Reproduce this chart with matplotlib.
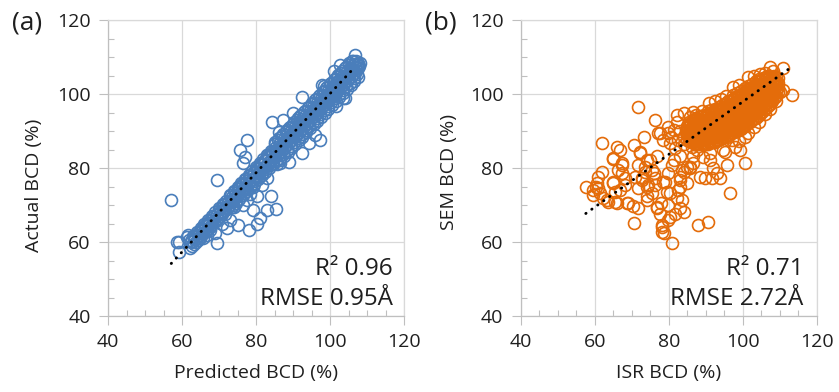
import matplotlib
matplotlib.use("Agg")
import matplotlib.pyplot as plt
from matplotlib.ticker import MultipleLocator

plt.rcParams['font.family'] = ['Open Sans', 'DejaVu Sans']

# ---------------- data: panel (a) Predicted vs Actual ----------------
a_low_x = [62, 62.5, 62.2, 63, 63.5, 63.2, 64, 64.5, 64.2, 65, 65.5, 65.2, 66, 66.5, 66.2,
           67, 67.5, 67.2, 68, 68.5, 68.2, 69, 69.5, 69.2, 70, 70.5, 70.2, 71, 71.5, 71.2,
           72, 72.5, 72.2,
           62.35, 62.75, 63.35, 63.75, 64.35, 64.75, 65.35, 65.75, 66.35, 66.75, 67.35, 67.75,
           68.35, 68.75, 69.35, 69.75, 70.35, 70.75, 71.35, 71.75, 72.35, 72.75]
a_low_y = [60.5, 59.9, 58.4, 61.6, 60.9, 59.4, 62.7, 62.0, 60.5, 63.8, 63.1, 61.6, 64.8, 64.2, 62.6,
           65.9, 65.2, 63.7, 67.0, 66.3, 64.8, 68.0, 67.4, 65.8, 69.1, 68.4, 66.9, 70.2, 69.5, 68.0,
           71.2, 70.6, 69.1,
           60.2, 59.0, 61.3, 60.1, 62.4, 61.2, 63.5, 62.3, 64.5, 63.3, 65.6, 64.4,
           66.7, 65.5, 67.7, 66.5, 68.8, 67.6, 69.9, 68.7, 70.9, 69.7]
a_mid_x = [73, 73.5, 73.2, 73.7, 74, 74.5, 74.2, 74.7, 75, 75.5, 75.2, 75.7, 76, 76.5, 76.2, 76.7,
           77, 77.5, 77.2, 77.7, 78, 78.5, 78.2, 78.7, 79, 79.5, 79.2, 79.7, 80, 80.5, 80.2, 80.7,
           81, 81.5, 81.2, 81.7, 82, 82.5, 82.2, 82.7, 83, 83.5, 83.2, 83.7, 84, 84.5, 84.2, 84.7,
           73.35, 73.85, 73.5, 74.35, 74.85, 74.5, 75.35, 75.85, 75.5, 76.35, 76.85, 76.5,
           77.35, 77.85, 77.5, 78.35, 78.85, 78.5, 79.35, 79.85, 79.5, 80.35, 80.85, 80.5,
           81.35, 81.85, 81.5, 82.35, 82.85, 82.5, 83.35, 83.85, 83.5, 84.35, 84.85, 84.5]
a_mid_y = [72.8, 72.2, 70.7, 70.1, 73.9, 73.3, 71.8, 71.2, 75.0, 74.4, 72.9, 72.3, 76.0, 75.4, 73.9, 73.3,
           77.1, 76.5, 75.0, 74.4, 78.2, 77.6, 76.1, 75.5, 79.2, 78.6, 77.1, 76.5, 80.3, 79.7, 78.2, 77.6,
           81.4, 80.8, 79.3, 78.7, 82.4, 81.8, 80.3, 79.7, 83.5, 82.9, 81.4, 80.8, 84.6, 84.0, 82.5, 81.9,
           72.6, 71.3, 69.4, 73.7, 72.4, 70.5, 74.8, 73.5, 71.6, 75.8, 74.5, 72.6,
           76.9, 75.6, 73.7, 78.0, 76.7, 74.8, 79.0, 77.7, 75.8, 80.1, 78.8, 76.9,
           81.2, 79.9, 78.0, 82.2, 80.9, 79.0, 83.3, 82.0, 80.1, 84.4, 83.1, 81.2]
a_top_x = [85, 85.5, 85.2, 85.7, 85.4, 86, 86.5, 86.2, 86.7, 86.4, 87, 87.5, 87.2, 87.7, 87.4,
           88, 88.5, 88.2, 88.7, 88.4, 89, 89.5, 89.2, 89.7, 89.4, 90, 90.5, 90.2, 90.7, 90.4,
           91, 91.5, 91.2, 91.7, 91.4, 92, 92.5, 92.2, 92.7, 92.4, 93, 93.5, 93.2, 93.7, 93.4,
           94, 94.5, 94.2, 94.7, 94.4, 95, 95.5, 95.2, 95.7, 95.4, 96, 96.5, 96.2, 96.7, 96.4,
           97, 97.5, 97.2, 97.7, 97.4, 98, 98.5, 98.2, 98.7, 98.4, 99, 99.5, 99.2, 99.7, 99.4,
           100, 100.5, 100.2, 100.7, 100.4, 101, 101.5, 101.2, 101.7, 101.4,
           102, 102.5, 102.2, 102.7, 102.4, 103, 103.5, 103.2, 103.7, 103.4,
           104, 104.5, 104.2, 104.7, 104.4, 105, 105.5, 105.2, 105.7, 105.4,
           106, 106.5, 106.2, 106.7, 106.4, 107, 107.5, 107.2, 107.7, 107.4]
a_top_y = [86.6, 85.8, 84.2, 83.4, 81.8, 87.6, 86.8, 85.2, 84.4, 82.8, 88.7, 87.9, 86.3, 85.5, 83.9,
           89.8, 89.0, 87.4, 86.6, 85.0, 90.8, 90.0, 88.4, 87.6, 86.0, 91.9, 91.1, 89.5, 88.7, 87.1,
           93.0, 92.2, 90.6, 89.8, 88.2, 94.0, 93.2, 91.6, 90.8, 89.2, 95.1, 94.3, 92.7, 91.9, 90.3,
           96.2, 95.4, 93.8, 93.0, 91.4, 97.3, 96.5, 94.9, 94.1, 92.5, 98.3, 97.5, 95.9, 95.1, 93.5,
           99.4, 98.6, 97.0, 96.2, 94.6, 100.5, 99.7, 98.1, 97.3, 95.7, 101.5, 100.7, 99.1, 98.3, 96.7,
           102.6, 101.8, 100.2, 99.4, 97.8, 103.7, 102.9, 101.3, 100.5, 98.9,
           104.7, 103.9, 102.3, 101.5, 99.9, 105.8, 105.0, 103.4, 102.6, 101.0,
           106.9, 106.1, 104.5, 103.7, 102.1, 107.9, 107.1, 105.5, 104.7, 103.1,
           109.0, 108.2, 106.6, 105.8, 104.2, 108.8, 108.5, 107.2, 106.9, 105.3]
a_fill_x = [85.25, 85.75, 85.1, 85.55, 86.25, 86.75, 86.1, 86.55, 87.25, 87.75, 87.1, 87.55,
            88.25, 88.75, 88.1, 88.55, 89.25, 89.75, 89.1, 89.55, 90.25, 90.75, 90.1, 90.55,
            91.25, 91.75, 91.1, 91.55, 92.25, 92.75, 92.1, 92.55, 93.25, 93.75, 93.1, 93.55,
            94.25, 94.75, 94.1, 94.55, 95.25, 95.75, 95.1, 95.55, 96.25, 96.75, 96.1, 96.55,
            97.25, 97.75, 97.1, 97.55, 98.25, 98.75, 98.1, 98.55, 99.25, 99.75, 99.1, 99.55,
            100.25, 100.75, 100.1, 100.55, 101.25, 101.75, 101.1, 101.55,
            102.25, 102.75, 102.1, 102.55, 103.25, 103.75, 103.1, 103.55,
            104.25, 104.75, 104.1, 104.55, 105.25, 105.75, 105.1, 105.55,
            106.25, 106.75, 106.1, 106.55, 107.4, 107.75, 107.1, 107.55]
a_fill_y = [87.0, 85.0, 83.0, 81.1, 88.0, 86.0, 84.0, 82.1, 89.1, 87.1, 85.1, 83.2,
            90.2, 88.2, 86.2, 84.3, 91.2, 89.2, 87.2, 85.3, 92.3, 90.3, 88.3, 86.4,
            93.4, 91.4, 89.4, 87.5, 94.4, 92.4, 90.4, 88.5, 95.5, 93.5, 91.5, 89.6,
            96.6, 94.6, 92.6, 90.7, 97.7, 95.7, 93.7, 91.8, 98.7, 96.7, 94.7, 92.8,
            99.8, 97.8, 95.8, 93.9, 100.9, 98.9, 96.9, 95.0, 101.9, 99.9, 97.9, 96.0,
            103.0, 101.0, 99.0, 97.1, 104.1, 102.1, 100.1, 98.2,
            105.1, 103.1, 101.1, 99.2, 106.2, 104.2, 102.2, 100.3,
            107.3, 105.3, 103.3, 101.4, 108.3, 106.4, 104.4, 102.5,
            109.0, 107.4, 105.4, 103.5, 108.0, 107.5, 106.5, 104.6]
a_out_x = [57.1, 59.1, 59.1, 69.4, 69.4, 77.5, 75.7, 77.1, 76.6, 75.0, 78.0, 80.2, 81.1, 79.3, 82.9,
           84.0, 85.3, 80.2, 72.1, 70.8, 66.7, 77.5, 79.3, 84.3, 87.4, 86.1, 92.4, 92.4, 94.2, 96.0,
           97.3, 88.8, 86.5, 82.9, 82.9, 101.0, 106.8, 104.1, 108.1, 102.7, 97.8, 99.1, 90.1, 61.3,
           65.4, 58.6, 61.7, 65.8, 68.9, 67.6, 74.0, 76.5, 78.5, 81.5, 73.0, 71.5, 98.5, 101.5, 103.5]
a_out_y = [71.4, 60.1, 57.4, 76.8, 59.8, 87.7, 85.0, 83.1, 81.3, 64.6, 63.2, 65.0, 66.4, 68.6, 68.6,
           72.3, 68.9, 72.3, 63.7, 65.0, 61.9, 71.4, 75.0, 92.5, 93.0, 89.8, 99.3, 84.0, 86.7, 88.9,
           87.7, 81.7, 81.3, 77.2, 83.5, 106.3, 110.5, 98.9, 108.3, 107.8, 102.4, 98.8, 94.8, 61.4,
           63.2, 60.1, 61.9, 61.0, 62.3, 63.2, 69.5, 70.0, 73.0, 75.5, 66.0, 67.5, 102.2, 96.8, 98.9]
a_trend = (1.07, -6.9)          # slope, intercept
a_trend_range = [57.1, 106.8]

# ---------------- data: panel (b) ISR vs SEM ----------------
b_blob_x = ([85] * 4 + [86] * 5 + [87] * 6 + [88] * 6 + [89] * 7 + [90] * 7 + [91] * 7 + [92] * 7 +
            [93] * 8 + [94] * 7 + [95] * 8 + [96] * 8 + [97] * 8 + [98] * 8 + [99] * 8 + [100] * 8 +
            [101] * 8 + [102] * 8 + [103] * 8 + [104] * 8 + [105] * 8 + [106] * 7 + [107] * 7 +
            [108] * 6 + [109] * 5)
b_blob_y = [87.5, 88.8, 90.1, 91.4,
            87.0, 88.3, 89.6, 90.9, 92.2,
            86.5, 87.8, 89.1, 90.4, 91.7, 93.0,
            86.6, 87.9, 89.2, 90.5, 91.8, 93.1,
            86.5, 87.8, 89.1, 90.4, 91.7, 93.0, 94.0,
            86.6, 87.9, 89.2, 90.5, 91.8, 93.1, 94.4,
            87.0, 88.3, 89.6, 90.9, 92.2, 93.5, 94.8,
            87.1, 88.4, 89.7, 91.0, 92.3, 93.6, 94.9,
            87.5, 88.8, 90.1, 91.4, 92.7, 94.0, 95.3, 96.0,
            88.0, 89.3, 90.6, 91.9, 93.2, 94.5, 95.8,
            88.5, 89.8, 91.1, 92.4, 93.7, 95.0, 96.3, 97.0,
            89.0, 90.3, 91.6, 92.9, 94.2, 95.5, 96.8, 98.0,
            89.5, 90.8, 92.1, 93.4, 94.7, 96.0, 97.3, 98.5,
            90.0, 91.3, 92.6, 93.9, 95.2, 96.5, 97.8, 99.1,
            90.5, 91.8, 93.1, 94.4, 95.7, 97.0, 98.3, 99.6,
            91.0, 92.3, 93.6, 94.9, 96.2, 97.5, 98.8, 100.1,
            92.0, 93.3, 94.6, 95.9, 97.2, 98.5, 99.8, 101.0,
            92.5, 93.8, 95.1, 96.4, 97.7, 99.0, 100.3, 101.5,
            93.5, 94.8, 96.1, 97.4, 98.7, 100.0, 101.3, 102.0,
            94.0, 95.3, 96.6, 97.9, 99.2, 100.5, 101.8, 102.5,
            95.0, 96.3, 97.6, 98.9, 100.2, 101.5, 102.8, 103.5,
            96.0, 97.3, 98.6, 99.9, 101.2, 102.5, 103.8,
            97.0, 98.3, 99.6, 100.9, 102.2, 103.5, 104.5,
            98.0, 99.3, 100.6, 101.9, 103.2, 104.5,
            99.5, 100.8, 102.1, 103.4, 104.7]
b_fill_x = ([85.5] * 5 + [86.5] * 6 + [87.5] * 7 + [88.5] * 7 + [89.5] * 7 + [90.5] * 8 +
            [91.5] * 8 + [92.5] * 8 + [93.5] * 8 + [94.5] * 8 + [95.5] * 8 + [96.5] * 8 +
            [97.5] * 9 + [98.5] * 9 + [99.5] * 9 + [100.5] * 9 + [101.5] * 9 + [102.5] * 9 +
            [103.5] * 9 + [104.5] * 9 + [105.5] * 8 + [106.5] * 8 + [107.5] * 7 + [108.5] * 6 +
            [109.5] * 4)
b_fill_y = [87.4, 88.7, 90.0, 91.3, 92.3,
            86.9, 88.2, 89.5, 90.8, 92.1, 93.0,
            86.4, 87.7, 89.0, 90.3, 91.6, 92.9, 93.6,
            86.4, 87.7, 89.0, 90.3, 91.6, 92.9, 94.0,
            86.4, 87.7, 89.0, 90.3, 91.6, 92.9, 94.2,
            86.6, 87.9, 89.2, 90.5, 91.8, 93.1, 94.4, 95.3,
            86.9, 88.2, 89.5, 90.8, 92.1, 93.4, 94.7, 95.7,
            87.1, 88.4, 89.7, 91.0, 92.3, 93.6, 94.9, 96.0,
            87.6, 88.9, 90.2, 91.5, 92.8, 94.1, 95.4, 96.5,
            88.1, 89.4, 90.7, 92.0, 93.3, 94.6, 95.9, 97.0,
            88.6, 89.9, 91.2, 92.5, 93.8, 95.1, 96.4, 97.6,
            89.1, 90.4, 91.7, 93.0, 94.3, 95.6, 96.9, 98.2,
            89.6, 90.9, 92.2, 93.5, 94.8, 96.1, 97.4, 98.7, 99.6,
            90.1, 91.4, 92.7, 94.0, 95.3, 96.6, 97.9, 99.2, 100.2,
            90.6, 91.9, 93.2, 94.5, 95.8, 97.1, 98.4, 99.7, 100.9,
            91.4, 92.7, 94.0, 95.3, 96.6, 97.9, 99.2, 100.5, 101.5,
            92.1, 93.4, 94.7, 96.0, 97.3, 98.6, 99.9, 101.2, 102.2,
            92.9, 94.2, 95.5, 96.8, 98.1, 99.4, 100.7, 102.0, 102.8,
            93.6, 94.9, 96.2, 97.5, 98.8, 100.1, 101.4, 102.7, 103.4,
            94.4, 95.7, 97.0, 98.3, 99.6, 100.9, 102.2, 103.5, 104.0,
            95.4, 96.7, 98.0, 99.3, 100.6, 101.9, 103.2, 104.3,
            96.4, 97.7, 99.0, 100.3, 101.6, 102.9, 104.2, 105.0,
            97.4, 98.7, 100.0, 101.3, 102.6, 103.9, 105.0,
            98.8, 100.1, 101.4, 102.7, 104.0, 105.0,
            100.5, 101.8, 103.1, 104.2]
b_out_x = [57.6, 60.3, 59.6, 61.4, 60.5, 61.9, 61.9, 62.3, 63.7, 65.9, 65.5, 65.0, 65.0, 65.9, 66.8,
           67.3, 67.3, 68.2, 69.1, 70.5, 70.5, 71.8, 71.8, 72.3, 72.7, 73.2, 73.6, 74.1, 74.1, 75.0,
           75.9, 76.3, 76.3, 76.8, 77.2, 77.7, 78.1, 78.6, 79.0, 79.5, 79.9, 80.8, 79.9, 81.7, 82.2,
           82.6, 83.1, 83.5, 84.0, 84.0, 84.9, 81.3, 80.4, 81.3, 82.2, 88.0, 90.7, 88.4, 91.6, 93.9,
           92.1, 95.7, 96.6, 100.6, 86.7, 89.4, 91.2, 95.3, 98.0, 113.2, 111.0, 108.7, 111.0, 107.4,
           72.2, 74.0, 64.9, 67.3, 77.6, 79.8, 78.5, 76.8, 75.4, 73.6, 70.9, 72.7, 71.8, 74.5, 76.3,
           78.5, 80.3, 83.1, 83.1, 79.9, 77.8, 76.8, 80.3, 78.3, 78.3, 68.6, 65.5, 63.2, 61.0, 59.6,
           61.0, 66.4, 66.8, 65.0, 68.2, 71.8, 75.4, 74.0, 70.4, 80.8, 83.5, 83.1, 81.7, 86.6, 85.8,
           86.2, 84.0, 84.9, 79.9, 85.8, 94.8, 99.3, 93.0, 95.7, 91.2, 87.6, 85.8, 83.1, 84.9, 89.8,
           93.0, 87.5, 89.0, 91.0, 92.5, 94.0, 95.5, 97.5, 99.0, 101.5, 103.0, 104.7, 106.0, 108.3,
           82.2, 84.0, 86.5, 97.0, 99.0, 100.5, 101.5, 103.0, 104.5, 106.0, 107.5, 109.0, 110.0,
           80.5, 83.0, 82.5, 85.5, 84.0, 86.5, 88.0]
b_out_y = [75.0, 75.0, 72.7, 73.3, 76.0, 86.7, 79.0, 71.8, 70.9, 70.5, 73.6, 76.3, 82.3, 85.8, 84.9,
           81.3, 78.6, 75.4, 70.5, 65.2, 86.2, 96.6, 69.1, 84.0, 77.2, 88.5, 80.4, 75.0, 72.3, 82.2,
           78.6, 93.0, 75.4, 69.5, 89.4, 67.7, 64.1, 62.3, 76.3, 73.6, 78.6, 59.6, 66.0, 67.7, 71.8,
           74.1, 76.8, 71.3, 68.2, 79.0, 80.4, 82.2, 86.7, 90.3, 92.5, 64.6, 65.5, 77.7, 77.2, 77.2,
           79.9, 80.8, 73.3, 81.4, 81.3, 83.1, 84.0, 84.4, 85.8, 99.7, 101.1, 99.3, 106.9, 107.4,
           84.4, 82.2, 82.7, 80.8, 89.5, 89.5, 87.6, 83.2, 79.5, 79.0, 77.7, 76.8, 74.5, 75.4, 77.2,
           76.3, 73.2, 75.0, 69.1, 70.0, 70.5, 69.1, 66.8, 64.6, 62.8, 70.5, 70.9, 71.4, 74.5, 74.1,
           77.7, 79.5, 74.1, 75.9, 77.2, 80.8, 73.2, 71.4, 69.6, 80.8, 79.5, 83.2, 85.3, 83.2, 79.9,
           85.8, 88.5, 91.2, 91.2, 93.9, 84.9, 84.9, 87.6, 88.5, 82.2, 84.9, 80.4, 77.7, 75.9, 77.2,
           78.6, 94.2, 95.5, 97.5, 98.0, 98.7, 99.5, 101.8, 102.5, 104.5, 105.0, 105.4, 105.8, 106.3,
           94.3, 94.8, 95.2, 87.5, 87.3, 88.5, 89.5, 91.0, 92.5, 94.5, 96.0, 98.0, 100.5,
           88.5, 90.0, 87.5, 89.0, 86.5, 87.5, 89.0]
b_trend = (0.712, 26.7)
b_trend_range = [57.6, 112.6]

panels = [
    dict(tag="(a)", xlabel="Predicted BCD (%)", ylabel="Actual BCD (%)", color="#4A7EBB",
         xs=[a_low_x, a_mid_x, a_top_x, a_fill_x, a_out_x],
         ys=[a_low_y, a_mid_y, a_top_y, a_fill_y, a_out_y],
         trend=a_trend, trange=a_trend_range, r2="R² 0.96", rmse="RMSE 0.95Å",
         left=108, ylab_pos=(-0.22, 0.44), txt_x=0.963),
    dict(tag="(b)", xlabel="ISR BCD (%)", ylabel="SEM BCD (%)", color="#E46C0A",
         xs=[b_blob_x, b_fill_x, b_out_x], ys=[b_blob_y, b_fill_y, b_out_y],
         trend=b_trend, trange=b_trend_range, r2="R² 0.71", rmse="RMSE 2.72Å",
         left=520.7, ylab_pos=(-0.212, 0.486), txt_x=0.955),
]

W, H = 839, 392
fig = plt.figure(figsize=(W / 100, H / 100), dpi=100)
grid_c = "#d9d9d9"
spine_c = "#bfbfbf"
text_c = "#1f1f1f"

for p in panels:
    ax = fig.add_axes([p["left"] / W, (H - 316) / H, 296 / W, 296 / H])
    ax.set_xlim(40, 120)
    ax.set_ylim(40, 120)
    for xs, ys in zip(p["xs"], p["ys"]):
        ax.plot(xs, ys, linestyle="none", marker="o", markersize=8.6,
                markerfacecolor="none", markeredgecolor=p["color"], markeredgewidth=1.2,
                zorder=3, clip_on=False)
    m, b = p["trend"]
    tx = p["trange"]
    ax.plot(tx, [m * v + b for v in tx], color="black", linestyle=(0, (0.1, 2.4)),
            dash_capstyle="round", linewidth=2.1, zorder=4)

    ax.xaxis.set_major_locator(MultipleLocator(20))
    ax.yaxis.set_major_locator(MultipleLocator(20))
    ax.xaxis.set_minor_locator(MultipleLocator(5))
    ax.yaxis.set_minor_locator(MultipleLocator(5))
    ax.grid(True, which="major", color=grid_c, linewidth=0.9, zorder=0)
    ax.set_axisbelow(True)
    ax.tick_params(which="major", direction="out", length=6.5, width=0.8, color=spine_c,
                   labelsize=14, labelcolor=text_c, pad=6)
    ax.tick_params(which="minor", direction="in", length=4.3, width=0.8, color=spine_c)
    ax.tick_params(axis="x", which="both", top=False)
    ax.tick_params(axis="y", which="both", right=False)
    for s in ["left", "bottom"]:
        ax.spines[s].set_color(spine_c)
        ax.spines[s].set_linewidth(0.9)
    for s in ["top", "right"]:
        ax.spines[s].set_color(grid_c)
        ax.spines[s].set_linewidth(0.9)

    ax.set_xlabel(p["xlabel"], fontsize=14, color=text_c, labelpad=9)
    ax.set_ylabel(p["ylabel"], fontsize=14, color=text_c)
    ax.yaxis.set_label_coords(*p["ylab_pos"])

    ax.text(p["txt_x"], 0.139, p["r2"], transform=ax.transAxes, ha="right", va="baseline",
            fontsize=17.5, color=text_c, zorder=5)
    ax.text(p["txt_x"], 0.037, p["rmse"], transform=ax.transAxes, ha="right", va="baseline",
            fontsize=17.5, color=text_c, zorder=5)

fig.text(12 / W, 1 - 29 / H, "(a)", fontsize=19, color=text_c, va="baseline", ha="left")
fig.text(425 / W, 1 - 29 / H, "(b)", fontsize=19, color=text_c, va="baseline", ha="left")

fig.savefig("out.png", dpi=100)
